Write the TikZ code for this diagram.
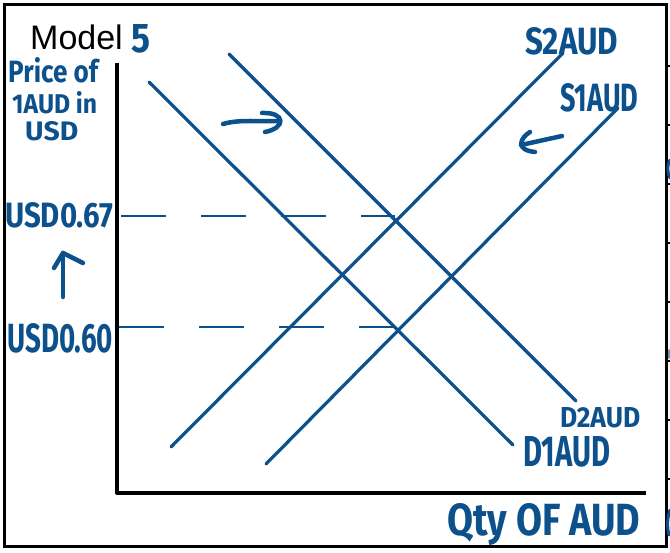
\documentclass[tikz,border=0pt]{standalone}
\usepackage{fontspec}
\setmainfont{Liberation Sans}
\newfontfamily\hand{Fira Sans}
\definecolor{ink}{RGB}{12,80,140}
\newcommand\hwbox[3]{\resizebox{#1pt}{#2pt}{#3}}
\tikzset{
  curve/.style={draw=ink, line width=3.2pt, line cap=round},
  guide/.style={draw=ink, line width=2.8pt, dash pattern=on 45pt off 35pt},
  hw/.style={text=ink, inner sep=0pt, anchor=base west, font=\hand\bfseries},
  stroke/.style={draw=ink, line width=4.5pt, line cap=round, line join=round},
  frame/.style={draw=black, line width=3pt},
  axis/.style={draw=black, line width=4pt, line join=round},
  tick/.style={draw=black, line width=2pt},
}
\begin{document}
\begin{tikzpicture}[x=1pt,y=-1pt]
\useasboundingbox (0,0) rectangle (670,553);
\fill[white] (0,0) rectangle (670,553);
% frame and ticks
\draw[frame] (4,5) rectangle (666,546);
\foreach \ty in {66,125,184,243,302,361,420,479}
  \draw[tick] (666,\ty) -- (670,\ty);
% partial marks at the right edge
\draw[stroke, line width=3pt] (670,160) .. controls (667,165) and (667,172) .. (670,178);
\draw[stroke, line width=2pt, draw=ink!60] (669,350) -- (669,358);
\draw[stroke, line width=3pt] (670,510) .. controls (667,518) and (667,528) .. (669,535);
% axes
\coordinate (ytop) at (117,63);
\coordinate (origin) at (117,493);
\coordinate (xend) at (646,493);
\draw[axis] (ytop) -- (origin) -- (xend);
% curves
\coordinate (d1a) at (149,82);  \coordinate (d1b) at (513,445);
\coordinate (d2a) at (229,54);  \coordinate (d2b) at (576,401);
\coordinate (s1a) at (266,464); \coordinate (s1b) at (618,108);
\coordinate (s2a) at (171,447); \coordinate (s2b) at (563,53);
\draw[curve] (d1a) -- (d1b);
\draw[curve] (d2a) -- (d2b);
\draw[curve] (s1a) -- (s1b);
\draw[curve] (s2a) -- (s2b);
% guides
\coordinate (g1a) at (121,216); \coordinate (g1b) at (395,216);
\coordinate (g2a) at (119,327); \coordinate (g2b) at (393,327);
\draw[guide] (g1a) -- (g1b);
\draw[guide] (g2a) -- (g2b);
% labels
\node[anchor=base west, inner sep=0pt, font=\fontsize{34}{34}\selectfont] (model) at (30,50) {Model};
\node[hw] (five) at (131,53) {\hwbox{19}{28}{5}};
\node[hw] (price1) at (8,83) {\hwbox{90}{25}{Price of}};
\node[hw] (price2) at (12,114) {\hwbox{85}{22}{1AUD in}};
\node[hw] (price3) at (25,141) {\hwbox{53}{19}{USD}};
\node[hw] (p67) at (5,228) {\hwbox{108}{25}{USD0.67}};
\node[hw] (p60) at (7,353) {\hwbox{106}{29}{USD0.60}};
\node[hw] (s2) at (525,55) {\hwbox{93}{27}{S2AUD}};
\node[hw] (s1) at (560,112) {\hwbox{78}{28}{S1AUD}};
\node[hw] (d2) at (560,428) {\hwbox{80}{20}{D2AUD}};
\node[hw] (d1) at (523,467) {\hwbox{87}{30}{D1AUD}};
\node[hw] (qty) at (447,535) {\hwbox{193}{32}{Qty OF AUD}};
% up arrow
\coordinate (ua) at (63,297); \coordinate (ub) at (63,253);
\coordinate (ul) at (54,268); \coordinate (ur) at (83,263);
\draw[stroke] (ua) -- (ub);
\draw[stroke] (ul) -- (ub) -- (ur);
% right arrow
\coordinate (ra) at (223,124); \coordinate (rb) at (279,121);
\coordinate (rh1) at (262,113); \coordinate (rh2) at (265,132);
\draw[stroke] (ra) .. controls (240,119) and (260,122) .. (rb);
\draw[stroke] (rh1) .. controls (286,112) and (286,128) .. (rh2);
% left arrow
\coordinate (la) at (562,136); \coordinate (lb) at (521,145);
\coordinate (lh1) at (530,132); \coordinate (lh2) at (535,152);
\draw[stroke] (la) -- (lb);
\draw[stroke] (lh1) .. controls (520,138) and (515,150) .. (lh2);
\end{tikzpicture}
\end{document}
